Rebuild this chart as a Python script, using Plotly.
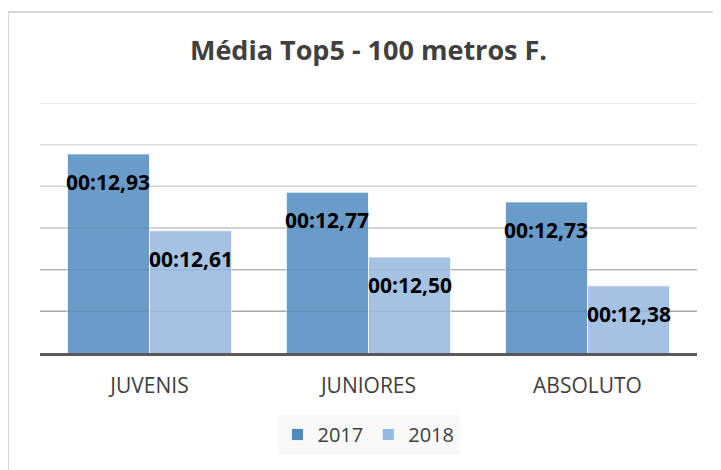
import plotly.graph_objects as go

categories = ["JUVENIS", "JUNIORES", "ABSOLUTO"]
series_names = ["2017", "2018"]
values_2017 = [12.93, 12.77, 12.73]
values_2018 = [12.61, 12.50, 12.38]
labels_2017 = ["00:12,93", "00:12,77", "00:12,73"]
labels_2018 = ["00:12,61", "00:12,50", "00:12,38"]
title_text = "Média Top5 - 100 metros F."

y_min = 12.10
y_step = 0.1737
n_grid = 6
grid_vals = [y_min + y_step * i for i in range(1, n_grid + 1)]
grid_colors = ["#a8a8a8", "#b5b5b5", "#c4c4c4", "#d2d2d2", "#dcdcdc", "#e4e4e4"]

OFF = 8  # page body margin
W, H = 721 - OFF, 470 - OFF
ml, mt = 40 - OFF, 103 - OFF
plot_w, plot_h = 657, 250
mr = W - ml - plot_w
mb = H - mt - plot_h
cat_w = plot_w / len(categories)
bargap = 0.25
bar_px = cat_w * (1 - bargap) / 2

fig = go.Figure()
fig.add_trace(go.Bar(
    x=categories, y=values_2017, name=series_names[0],
    marker=dict(color="rgb(80,139,191)", opacity=0.85,
                line=dict(color="rgba(255,255,255,0.8)", width=1)),
    hoverinfo="skip",
))
fig.add_trace(go.Bar(
    x=categories, y=values_2018, name=series_names[1],
    marker=dict(color="rgb(151,184,223)", opacity=0.85,
                line=dict(color="rgba(255,255,255,0.8)", width=1)),
    hoverinfo="skip",
))

shapes = []
for v, c in zip(grid_vals, grid_colors):
    shapes.append(dict(type="line", xref="paper", yref="y", x0=0, x1=1, y0=v, y1=v,
                       line=dict(color=c, width=1.5), layer="below"))
# chart frame
shapes.append(dict(type="rect", xref="paper", yref="paper",
                   x0=(8 - 40) / plot_w, x1=1.2,
                   y0=-0.8, y1=(353 - 12) / plot_h,
                   line=dict(color="#c8c8c8", width=1.5), layer="below"))

annotations = []
for vals, labs, sgn in [(values_2017, labels_2017, -1), (values_2018, labels_2018, 1)]:
    for cat, v, lab in zip(categories, vals, labs):
        annotations.append(dict(x=cat, y=v, text="<b>" + lab + "</b>", showarrow=False,
                                xshift=sgn * bar_px / 2, yshift=-28,
                                yanchor="middle", xanchor="center",
                                font=dict(family="Open Sans", size=21, color="#000000")))

fig.update_layout(
    width=W, height=H,
    margin=dict(l=ml, r=mr, t=mt, b=mb),
    paper_bgcolor="white", plot_bgcolor="white",
    barmode="group", bargap=bargap, bargroupgap=0,
    title=dict(text="<b>" + title_text + "</b>", x=(ml + plot_w / 2) / W, xanchor="center",
               y=1 - (51 - OFF) / H, yanchor="middle",
               font=dict(family="Open Sans", size=27, color="#404040")),
    xaxis=dict(showline=True, linecolor="#595959", linewidth=3,
               ticks="outside", ticklen=12, tickcolor="rgba(0,0,0,0)",
               tickfont=dict(family="Open Sans", size=21, color="#404040"),
               showgrid=False),
    yaxis=dict(range=[y_min, y_min + y_step * n_grid], showgrid=False,
               showticklabels=False, zeroline=False, showline=False),
    legend=dict(orientation="h", x=0.5, xanchor="center", y=(353 - 415) / plot_h,
                yanchor="top", bgcolor="#f8f8f8",
                font=dict(family="Open Sans", size=20, color="#404040")),
    shapes=shapes, annotations=annotations,
)

fig.write_html("out.html")
